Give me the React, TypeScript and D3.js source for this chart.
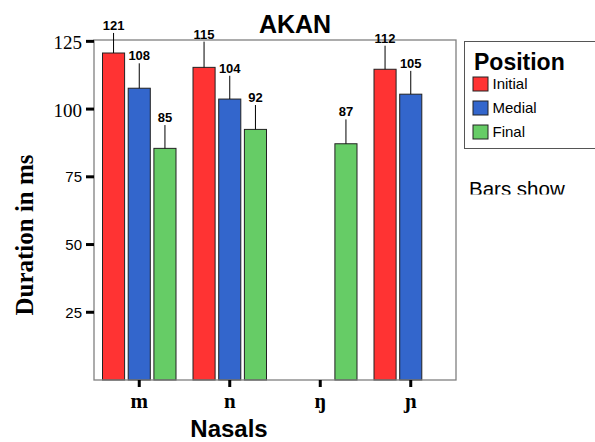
import * as d3 from "d3";

// Nasal categories on the x axis
const categories = ["m", "n", "ŋ", "ɲ"];
const positions = ["Initial", "Medial", "Final"];
const colors = ["#ff3333", "#3366cc", "#66cc66"];

// mean durations (ms) per position; null = no bar
const initialMeans = [120.7, 115.4, null, 114.7];
const medialMeans = [107.7, 103.7, null, 105.5];
const finalMeans = [85.5, 92.5, 87.2, null];

// upper error bar length (ms)
const initialErr = [7.4, 9.5, null, 8.7];
const medialErr = [9.2, 8.6, null, 8.6];
const finalErr = [8.6, 9.0, 9.0, null];

// value labels printed above the error bars
const initialLabels = ["121", "115", "", "112"];
const medialLabels = ["108", "104", "", "105"];
const finalLabels = ["85", "92", "87", ""];

const yTicks = [25, 50, 75, 100, 125];
const serifTicks = [100, 125];

const SANS = "'Liberation Sans', Arial, Helvetica, sans-serif";
const SERIF = "'Liberation Serif', 'Times New Roman', serif";

export default function App() {
  const width = 595;
  const height = 442;
  const plot = { left: 94, right: 456, top: 40, bottom: 380 };

  const x = d3.scaleBand<string>().domain(categories).range([plot.left, plot.right]).padding(0);
  const xInner = d3
    .scaleBand<string>()
    .domain(positions)
    .range([8.5, x.bandwidth() - 8.5])
    .paddingInner(0.14);
  const y = d3.scaleLinear().domain([0, 125.5]).range([plot.bottom, plot.top]);

  const series = [
    { means: initialMeans, errs: initialErr, labels: initialLabels },
    { means: medialMeans, errs: medialErr, labels: medialLabels },
    { means: finalMeans, errs: finalErr, labels: finalLabels },
  ];

  const bars: any[] = [];
  series.forEach((s, si) => {
    categories.forEach((c, ci) => {
      const v = s.means[ci];
      if (v == null) return;
      bars.push({
        key: `${c}-${si}`,
        x: (x(c) ?? 0) + (xInner(positions[si]) ?? 0),
        w: xInner.bandwidth(),
        v,
        err: s.errs[ci] ?? 0,
        label: s.labels[ci],
        color: colors[si],
      });
    });
  });

  const legendItems = positions.map((p, i) => ({ p, color: colors[i] }));

  return (
    <svg
      width={width}
      height={height}
      style={{ position: "absolute", left: 0, top: 0, background: "#fff" }}
    >
      <defs>
        <clipPath id="noteClip">
          <rect x={460} y={150} width={140} height={44.5} />
        </clipPath>
      </defs>

      {/* title */}
      <text x={295} y={33} textAnchor="middle" fontFamily={SANS} fontWeight="bold" fontSize={25}>
        AKAN
      </text>

      {/* bars */}
      {bars.map((b) => (
        <rect
          key={b.key}
          x={b.x}
          y={y(b.v)}
          width={b.w}
          height={y(0) - y(b.v)}
          fill={b.color}
          stroke="#222"
          strokeWidth={1}
        />
      ))}

      {/* plot frame */}
      <rect
        x={plot.left}
        y={plot.top}
        width={plot.right - plot.left}
        height={plot.bottom - plot.top}
        fill="none"
        stroke="#808080"
        strokeWidth={1.3}
      />

      {/* error bars and labels */}
      {bars.map((b) => {
        const cx = b.x + b.w / 2;
        const top = y(b.v + b.err);
        return (
          <g key={`e-${b.key}`}>
            <line x1={cx} x2={cx} y1={y(b.v)} y2={top} stroke="#000" strokeWidth={1} />
            <text
              x={cx}
              y={top - 3}
              textAnchor="middle"
              fontFamily={SANS}
              fontWeight="bold"
              fontSize={13}
            >
              {b.label}
            </text>
          </g>
        );
      })}

      {/* y axis */}
      {yTicks.map((t) => {
        const serif = serifTicks.includes(t);
        return (
          <g key={t}>
            <line x1={86} x2={94} y1={y(t)} y2={y(t)} stroke="#000" strokeWidth={3} />
            <text
              x={82}
              y={y(t)}
              dy={serif ? "0.42em" : "0.36em"}
              textAnchor="end"
              fontFamily={serif ? SERIF : SANS}
              fontSize={serif ? 19 : 15}
            >
              {t}
            </text>
          </g>
        );
      })}
      <text
        transform="translate(33,235) rotate(-90)"
        textAnchor="middle"
        fontFamily={SERIF}
        fontWeight="bold"
        fontSize={25}
      >
        Duration in ms
      </text>

      {/* x axis */}
      {categories.map((c) => {
        const cx = (x(c) ?? 0) + x.bandwidth() / 2;
        return (
          <g key={c}>
            <line x1={cx} x2={cx} y1={plot.bottom} y2={387} stroke="#000" strokeWidth={3} />
            <text x={cx} y={407.5} textAnchor="middle" fontFamily={SERIF} fontWeight="bold" fontSize={21}>
              {c}
            </text>
          </g>
        );
      })}
      <text x={229} y={436.5} textAnchor="middle" fontFamily={SANS} fontWeight="bold" fontSize={24}>
        Nasals
      </text>

      {/* legend */}
      <rect x={464.5} y={41.5} width={140} height={107} fill="#fff" stroke="#555" strokeWidth={1} />
      <text x={474} y={70} fontFamily={SANS} fontWeight="bold" fontSize={23}>
        Position
      </text>
      {legendItems.map((d, i) => (
        <g key={d.p} transform={`translate(473,${77 + i * 24})`}>
          <rect x={0} y={0} width={15} height={14} fill={d.color} stroke="#222" strokeWidth={1} />
          <text x={19.5} y={11.5} fontFamily={SANS} fontSize={15}>
            {d.p}
          </text>
        </g>
      ))}

      <text x={469} y={196} fontFamily={SANS} fontSize={20.5} clipPath="url(#noteClip)">
        Bars show
      </text>
    </svg>
  );
}
